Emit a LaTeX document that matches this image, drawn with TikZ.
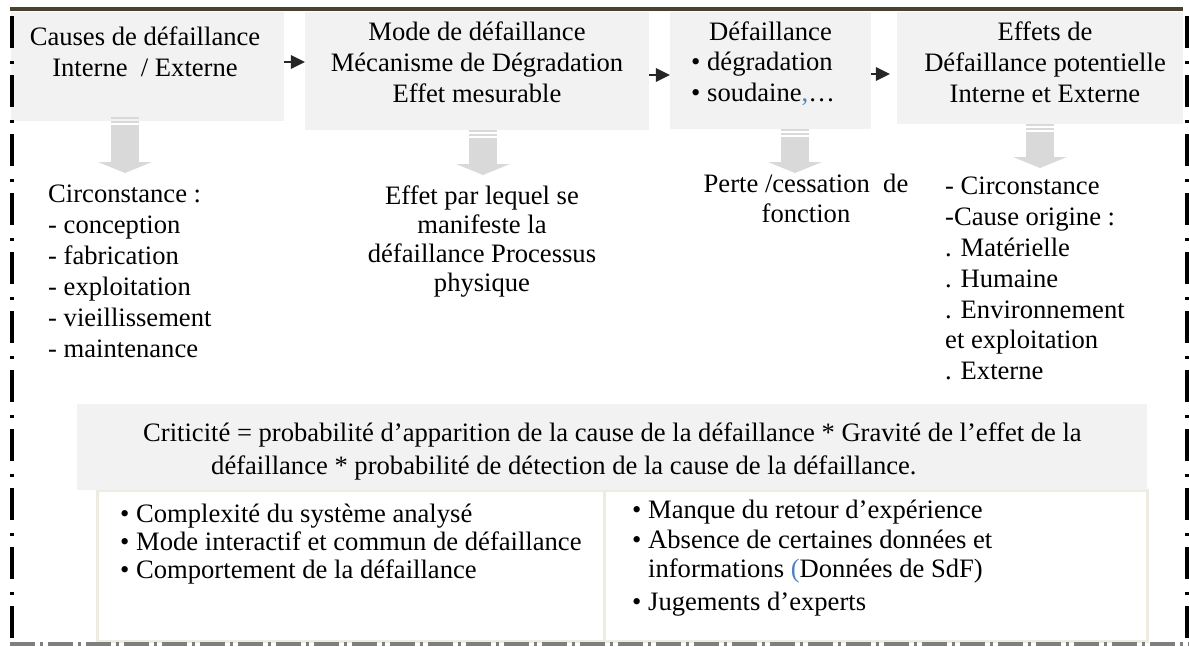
\documentclass[tikz,border=0pt]{standalone}
\usepackage{fontspec}
\setmainfont{Liberation Serif}
\usetikzlibrary{arrows.meta,positioning}

\definecolor{boxgrey}{RGB}{242,242,242}
\definecolor{arrowgrey}{RGB}{217,217,217}
\definecolor{frameolive}{RGB}{74,66,48}
\definecolor{tanline}{RGB}{238,236,225}
\definecolor{dashgrey}{RGB}{127,127,127}
\definecolor{linkblue}{RGB}{79,129,189}
\definecolor{arrowblack}{RGB}{38,38,38}

\tikzset{
  greybox/.style={fill=boxgrey, inner sep=0pt},
  tancell/.style={draw=tanline, line width=3pt, fill=white, inner sep=0pt},
  boxtext/.style={inner sep=0pt, align=center, anchor=north},
  listtext/.style={inner sep=0pt, align=left, anchor=north west},
  flowarrow/.style={draw=arrowblack, line width=2.2pt, -{Triangle[length=14pt 0,width=14pt 0,line width=0pt]}},
  stripearrow/.style={draw=arrowgrey, line width=28pt, dash pattern=on 2pt off 1.5pt on 2pt off 2pt on 300pt off 1pt, -{Triangle[length=11pt 0,width=54pt 0,line width=0pt]}},
  sideline/.style={line width=4pt, dash pattern=on 32pt off 13pt on 3pt off 11pt, dash phase=55pt},
}

\begin{document}
\begin{tikzpicture}[x=1pt,y=1pt,yscale=-1,font=\fontsize{26.6pt}{31pt}\selectfont]
        \useasboundingbox (0,0) rectangle (1189,646);

        % top row of boxes
        \node[greybox, minimum width=273pt, minimum height=109pt] (causes) at (147.5,66.5) {};
        \node[greybox, minimum width=344pt, minimum height=118pt] (mode) at (477,71) {};
        \node[greybox, minimum width=201pt, minimum height=117pt] (defail) at (770.5,70.5) {};
        \node[greybox, minimum width=286pt, minimum height=112pt] (effets) at (1040,68) {};

        \node[boxtext] (causestxt) at (145,27) {Causes de défaillance\\Interne\ \ / Externe};
        \node[boxtext] (modetxt) at (477,22) {Mode de défaillance\\Mécanisme de Dégradation\\Effet mesurable};
        \node[boxtext] (defailtxt) at (770.5,22) {Défaillance};
        \node[listtext] (defaillist) at (691,52) {\textbullet\ dégradation\\\textbullet\ soudaine{\color{linkblue},}\ldots};
        \node[boxtext] (effetstxt) at (1045,22) {Effets de\\Défaillance potentielle\\Interne et Externe};

        \draw[flowarrow] ([yshift=-4.5pt]causes.east) -- ([yshift=-4.5pt]causes.east -| mode.west);
        \draw[flowarrow] ([yshift=4pt]mode.east) -- ([yshift=4pt]mode.east -| defail.west);
        \draw[flowarrow, shorten >=7pt] ([yshift=3.5pt]defail.east) -- ([yshift=3.5pt]defail.east -| effets.west);

        % grey arrows down
        \coordinate (tip1) at (125,173);
        \coordinate (tip2) at (483,175);
        \coordinate (tip3) at (795,173);
        \coordinate (tip4) at (1040,168);
        \draw[stripearrow] ([yshift=-4pt]causes.south -| tip1) -- (tip1);
        \draw[stripearrow] (mode.south -| tip2) -- (tip2);
        \draw[stripearrow] (defail.south -| tip3) -- (tip3);
        \draw[stripearrow] (effets.south -| tip4) -- (tip4);

        \node[listtext] (circlist) at (48,185) {Circonstance :\\- conception\\- fabrication\\- exploitation\\- vieillissement\\- maintenance};
        \node[boxtext, font=\fontsize{26.6pt}{29pt}\selectfont] (effetpar) at (482,186) {Effet par lequel se\\manifeste la\\défaillance Processus\\physique};
        \node[boxtext, font=\fontsize{26.6pt}{30pt}\selectfont] (pertetxt) at (806,174) {Perte /cessation\ \ de\\fonction};
        \node[listtext, font=\fontsize{26.6pt}{30.8pt}\selectfont] (originlist) at (945,177) {- Circonstance\\-Cause origine :\\. Matérielle\\. Humaine\\. Environnement\\et exploitation\\. Externe};

        % criticity and lower table
        \node[tancell, minimum width=507pt, minimum height=151pt] (leftcell) at (350.5,565.5) {};
        \node[tancell, minimum width=543pt, minimum height=151pt] (rightcell) at (875.5,565.5) {};
        \node[greybox, minimum width=1070pt, minimum height=86pt] (critbox) at (612,447) {};
        \node[listtext, font=\fontsize{26.6pt}{33pt}\selectfont] (crittxt) at (143,423) {Criticité = probabilité d’apparition de la cause de la défaillance * Gravité de l’effet de la\\\hspace*{68pt}défaillance * probabilité de détection de la cause de la défaillance.};

        \node[listtext, font=\fontsize{26.6pt}{28pt}\selectfont] (leftitems) at (120,504) {\textbullet\ Complexité du système analysé\\\textbullet\ Mode interactif et commun de défaillance\\\textbullet\ Comportement de la défaillance};
        \node[listtext, font=\fontsize{26.6pt}{29.5pt}\selectfont] (rightitems) at (632,500) {\textbullet\ Manque du retour d’expérience\\\textbullet\ Absence de certaines données et\\\hphantom{\textbullet\ }informations {\color{linkblue}(}Données de SdF)\\[3.5pt]\textbullet\ Jugements d’experts};

        % frame
        \draw[frameolive, line width=3.3pt] (10,9) -- (1183,9);
        \draw[sideline] (12,12) -- (12,646);
        \draw[sideline, line width=5pt] (1187,12) -- (1187,646);
        \draw[dashgrey, line width=4pt, dash pattern=on 25pt off 5pt on 3pt off 5pt] (10,644) -- (1189,644);

\end{tikzpicture}
\end{document}
